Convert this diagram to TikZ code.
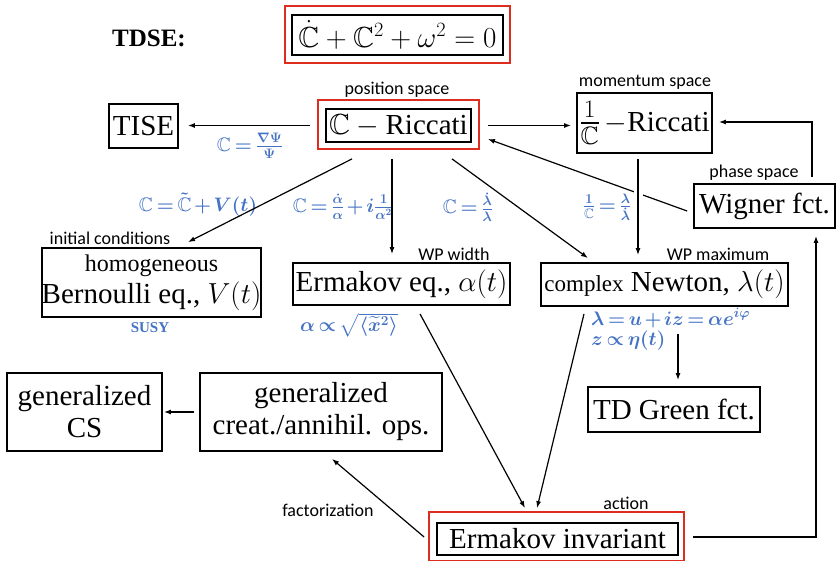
\RequirePackage{fix-cm}
\documentclass[tikz,border=0pt]{standalone}
\usepackage{amsmath,amssymb}
\DeclareFontFamily{U}{msb}{}
\DeclareFontShape{U}{msb}{m}{n}{<-6>msbm5<6-8>msbm7<8->msbm10}{}
\usepackage{fontspec}
\setmainfont{Liberation Serif}
\newfontfamily\lblfont{Carlito}
\usetikzlibrary{calc,arrows.meta}
\definecolor{frred}{RGB}{222,45,30}
\definecolor{lblue}{RGB}{68,114,196}
\newcommand\tightmath{\medmuskip=2mu\relax\thickmuskip=3mu\relax}
\tikzset{
  box/.style={draw=black, line width=1.8pt, inner sep=0pt, align=center, font=\fontsize{29}{32}\selectfont},
  lab/.style={font=\lblfont\fontsize{18}{20}\selectfont, inner sep=0pt},
  blu/.style={text=lblue, font=\fontsize{19.5}{22}\selectfont\boldmath\tightmath, inner sep=0pt},
  arr/.style={line width=1.2pt, -{Latex[length=7pt,width=5pt]}},
  redbox/.style={draw=frred, line width=2.2pt},
}
\begin{document}
\begin{tikzpicture}[x=1pt,y=-1pt]
\useasboundingbox (0,0) rectangle (839,561);

% title
\node[font=\bfseries\fontsize{25}{28}\selectfont, inner sep=0pt] (tdse) at (149,38) {TDSE:};
\node[box, minimum width=211pt, minimum height=40pt] (eq) at (397.5,35) {$\dot{\mathbb{C}}+\mathbb{C}^2+\omega^2=0$};
\draw[redbox] ($(eq.north west)+(-6pt,8pt)$) rectangle ($(eq.south east)+(6pt,-7pt)$);

% boxes
\node[box, minimum width=69pt, minimum height=44pt] (tise) at (143.5,126) {TISE};
\node[box, minimum width=145pt, minimum height=33pt] (cr) at (398.5,125.5) {$\mathbb{C}-{}$Riccati};
\draw[redbox] ($(cr.north west)+(-7pt,8pt)$) rectangle ($(cr.south east)+(7pt,-6pt)$);
\node[box, minimum width=135pt, minimum height=60pt] (mom) at (644.5,123) {{\fontsize{36}{40}\selectfont$\frac{1}{\mathbb{C}}$}\,$-$Riccati};
\node[box, minimum width=141pt, minimum height=44pt] (wig) at (764.5,206) {Wigner fct.};
\node[box, minimum width=219pt, minimum height=69pt] (bern) at (151.5,282.5) {{\fontsize{24}{31}\selectfont homogeneous}\\Bernoulli eq., $V(t)$};
\node[box, minimum width=217pt, minimum height=42pt] (erm) at (401.5,284) {Ermakov eq., $\alpha(t)$};
\node[box, minimum width=247pt, minimum height=43pt] (newt) at (664.5,284.5) {{\fontsize{23}{28}\selectfont complex} Newton, $\lambda(t)$};
\node[box, minimum width=172pt, minimum height=45pt] (green) at (674,409.5) {TD Green fct.};
\node[box, minimum width=155pt, minimum height=78pt] (cs) at (84.5,412) {generalized\\CS};
\node[box, minimum width=242pt, minimum height=78pt] (creat) at (321,412) {generalized\\creat./annihil. ops.};
\node[box, minimum width=241pt, minimum height=32pt] (inv) at (557.5,539) {Ermakov invariant};
\draw[redbox] ($(inv.north west)+(-7pt,10pt)$) rectangle ($(inv.south east)+(5pt,-5pt)$);

% black labels
\node[lab] (lpos) at (397,90) {position space};
\node[lab] (lmom) at (645,82) {momentum space};
\node[lab] (lpha) at (754,173) {phase space};
\node[lab] (lini) at (110,238) {initial conditions};
\node[lab] (lwid) at (454,254) {WP width};
\node[lab] (lmax) at (718,254) {WP maximum};
\node[lab] (lfac) at (328,510) {factorization};
\node[lab] (lact) at (626,503) {action};

% blue labels
\node[blu] (b1) at (250,146) {$\mathbb{C}=\frac{\nabla\Psi}{\Psi}$};
\node[blu] (b2) at (198,205) {$\mathbb{C}=\tilde{\mathbb{C}}+V(t)$};
\node[blu] (b3) at (343,207) {$\mathbb{C}=\frac{\dot\alpha}{\alpha}+i\frac{1}{\alpha^2}$};
\node[blu] (b4) at (468,207) {$\mathbb{C}=\frac{\dot\lambda}{\lambda}$};
\node[blu] (b5) at (607,207) {$\frac{1}{\mathbb{C}}=\frac{\lambda}{\dot\lambda}$};
\node[blu, font=\bfseries\fontsize{15}{17}\selectfont] (b6) at (150,328) {SUSY};
\node[blu] (b7) at (349,325) {$\alpha\propto\sqrt{\langle\widetilde{x}^2\rangle}$};
\node[blu, anchor=west] (b8) at (591,318) {$\lambda=u+iz=\alpha e^{i\varphi}$};
\node[blu, anchor=west] (b9) at (591,341) {$z\propto\eta(t)$};

% connectors
\draw[arr, shorten <=15pt, shorten >=9pt] (cr.west) -- (cr.west -| tise.east);
\draw[arr, shorten <=16pt, shorten >=5pt] (cr.east) -- (cr.east -| mom.west);
\draw[arr] ($(wig.north)+(47.5pt,6pt)$) |- ($(mom.east)+(6pt,1pt)$);
\draw[arr] ($(wig.west)+(-6pt,-5pt)$) -- ($(cr.east)+(16pt,-13.5pt)$);
\draw[white, line width=9pt] ($(mom.south)+(-6.5pt,-25pt)$) -- ($(mom.south)+(-6.5pt,-55pt)$);
\draw[arr] ($(mom.south)+(-6.5pt,-5pt)$) -- ($(mom.south |- newt.north)+(-6.5pt,7pt)$);
\draw[arr] ($(cr.south)+(-46.5pt,-16pt)$) -- ($(bern.north)+(36.5pt,5pt)$);
\draw[arr] ($(cr.south)+(-6.5pt,-16pt)$) -- ($(erm.north)+(-9.5pt,8pt)$);
\draw[arr] ($(cr.south)+(53.5pt,-16pt)$) -- ($(newt.north)+(-76.5pt,4pt)$);
\draw[arr] ($(newt.south)+(13.5pt,-27pt)$) -- ($(green.north)+(4pt,6pt)$);
\draw[arr] ($(newt.south)+(-80.5pt,-7pt)$) -- ($(inv.north)+(-20.5pt,14pt)$);
\draw[arr] ($(erm.south)+(18.5pt,-8pt)$) -- ($(inv.north)+(-32.5pt,14pt)$);
\draw[arr] ($(inv.east)+(14pt,2pt)$) -| ($(wig.south)+(51.5pt,-7pt)$);
\draw[arr] ($(inv.west)+(-12pt,2pt)$) -- ($(creat.south)+(11pt,-7pt)$);
\draw[arr, shorten <=5pt, shorten >=1pt] (creat.west) -- (creat.west -| cs.east);
\end{tikzpicture}
\end{document}
